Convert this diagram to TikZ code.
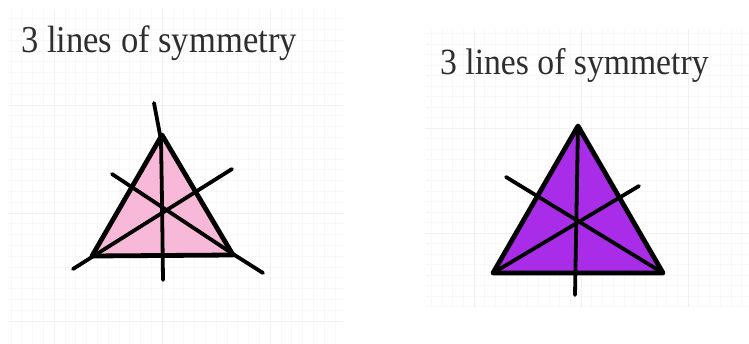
\documentclass[tikz,border=0pt]{standalone}
\usepackage{fontspec}
\setmainfont{Liberation Serif}
\definecolor{pinkfill}{HTML}{F8B8D8}
\definecolor{purplefill}{HTML}{A82CE8}
\definecolor{gridminor}{HTML}{F8F8F8}
\definecolor{gridmajor}{HTML}{F0F0F0}
\begin{document}
\begin{tikzpicture}[x=1pt,y=-1pt,
  tri/.style={draw=black,line width=4.8pt,line join=round},
  sym/.style={draw=black,line width=3.8pt,line cap=round,line join=round},
  caption/.style={anchor=base west,inner sep=0pt,text=black!82}]
\useasboundingbox (0,0) rectangle (749,344);
% faint background grids
\begin{scope}
\clip (8,10) rectangle (343,344);
\foreach \k in {-10,...,40} {
  \draw[gridminor,line width=0.6pt] (54+\k*10.8-108,0) -- (54+\k*10.8-108,344);
  \draw[gridminor,line width=0.6pt] (0,105+\k*10.8-216) -- (749,105+\k*10.8-216);
}
\foreach \k in {-1,...,3} {
  \draw[gridmajor,line width=0.8pt] (54+\k*108,0) -- (54+\k*108,344);
  \draw[gridmajor,line width=0.8pt] (0,105+\k*108) -- (749,105+\k*108);
}
\end{scope}
\begin{scope}
\clip (425,30) rectangle (749,307);
\foreach \k in {-10,...,40} {
  \draw[gridminor,line width=0.6pt] (474+\k*10.7-107,0) -- (474+\k*10.7-107,344);
  \draw[gridminor,line width=0.6pt] (0,128+\k*10.5-105) -- (749,128+\k*10.5-105);
}
\foreach \k in {-1,...,3} {
  \draw[gridmajor,line width=0.8pt] (474+\k*107,0) -- (474+\k*107,344);
  \draw[gridmajor,line width=0.8pt] (0,128+\k*105) -- (749,128+\k*105);
}
\end{scope}
% captions
\node[caption,font=\fontsize{38}{44}\selectfont,xscale=0.91] (capL) at (21,53) {3 lines of symmetry};
\node[caption,font=\fontsize{37}{44}\selectfont,xscale=0.91] (capR) at (440,75) {3 lines of symmetry};
% left triangle
\coordinate (LA) at (162,135);
\coordinate (LB) at (92,256);
\coordinate (LC) at (233,255);
\coordinate (Lv1) at (154,103);
\coordinate (Lv2) at (163,280);
\coordinate (Ld1) at (73,269);
\coordinate (Ld2) at (232,169);
\coordinate (Le1) at (112,174);
\coordinate (Le2) at (263,273);
\fill[pinkfill] (LA) -- (LB) -- (LC) -- cycle;
\draw[sym] (Lv1) -- (161,140) -- (162,200) -- (Lv2);
\draw[sym] (Ld1) -- (92,257) -- (Ld2);
\draw[sym] (Le1) -- (233,254) -- (Le2);
\draw[tri] (LA) -- (LB) -- (LC) -- cycle;
% right triangle
\coordinate (RA) at (578,126);
\coordinate (RB) at (493,273);
\coordinate (RC) at (663,273);
\coordinate (Rv2) at (575,295);
\coordinate (Rd1) at (506,177);
\coordinate (Re1) at (639,186);
\fill[purplefill] (RA) -- (RB) -- (RC) -- cycle;
\draw[sym] (RA) -- (Rv2);
\draw[sym] (Rd1) -- (RC);
\draw[sym] (Re1) -- (RB);
\draw[tri] (RA) -- (RB) -- (RC) -- cycle;
\end{tikzpicture}
\end{document}
